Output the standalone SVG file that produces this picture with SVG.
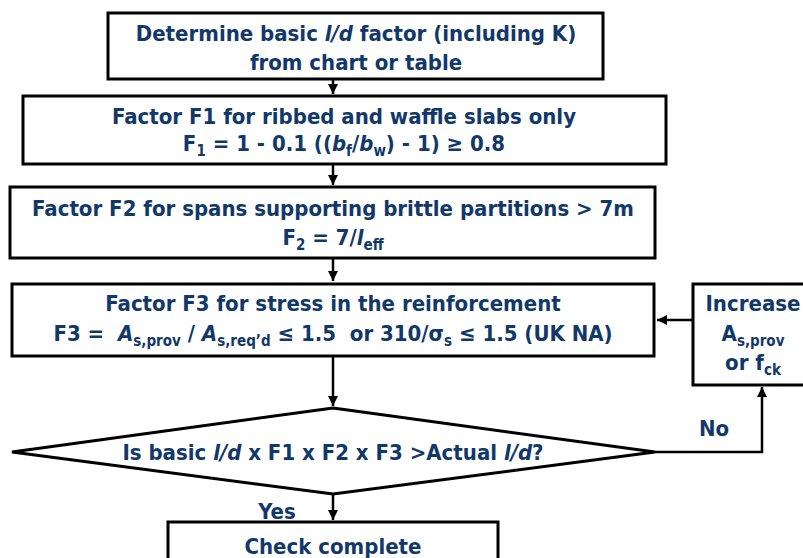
<svg xmlns="http://www.w3.org/2000/svg" width="803" height="558" viewBox="0 0 803 558">
<defs>
<marker id="ah" viewBox="0 0 10 10" refX="10" refY="5" markerWidth="4" markerHeight="4" orient="auto" markerUnits="strokeWidth">
<path d="M0,0 L10,5 L0,10 z" fill="#000"/>
</marker>
<style>
.box{fill:#fff;stroke:#000;stroke-width:3}
.t{font-family:"DejaVu Sans Condensed","DejaVu Sans",sans-serif;font-stretch:condensed;font-weight:bold;font-size:22px;fill:#12386a;text-anchor:middle}
.s{font-size:15px}
.i{font-style:italic}
.c{fill:none;stroke:#000;stroke-width:2.5}
</style>
</defs>
<rect width="803" height="558" fill="#fff"/>
<g id="connectors">
<line class="c" x1="333" y1="80" x2="333" y2="94" marker-end="url(#ah)"/>
<line class="c" x1="333" y1="165" x2="333" y2="185" marker-end="url(#ah)"/>
<line class="c" x1="333" y1="259" x2="333" y2="281" marker-end="url(#ah)"/>
<line class="c" x1="333" y1="356" x2="333" y2="406" marker-end="url(#ah)"/>
<line class="c" x1="692" y1="320" x2="657" y2="320" marker-end="url(#ah)"/>
<polyline class="c" points="655,452 762,452 762,387" marker-end="url(#ah)"/>
<line class="c" x1="333" y1="493" x2="333" y2="520" marker-end="url(#ah)"/>
<text class="t" x="714" y="436">No</text>
<text class="t" x="277" y="519">Yes</text>
</g>
<g id="n1">
<rect class="box" x="108" y="13" width="495" height="66"/>
<text class="t" x="356" y="41">Determine basic <tspan class="i">l/d</tspan> factor (including K)</text>
<text class="t" x="356" y="70">from chart or table</text>
</g>
<g id="n2">
<rect class="box" x="23" y="96" width="643" height="68"/>
<text class="t" x="344" y="124">Factor F1 for ribbed and waffle slabs only</text>
<text class="t" x="344" y="151">F<tspan class="s" dy="5">1</tspan><tspan dy="-5"> = 1 - 0.1 ((</tspan><tspan class="i">b</tspan><tspan class="s" dy="5">f</tspan><tspan dy="-5">/</tspan><tspan class="i">b</tspan><tspan class="s" dy="5">w</tspan><tspan dy="-5">) - 1) ≥ 0.8</tspan></text>
</g>
<g id="n3">
<rect class="box" x="10" y="187" width="645" height="71"/>
<text class="t" x="333" y="216">Factor F2 for spans supporting brittle partitions &gt; 7m</text>
<text class="t" x="333" y="245">F<tspan class="s" dy="5">2</tspan><tspan dy="-5"> = 7/</tspan><tspan class="i">l</tspan><tspan class="s" dy="5">eff</tspan></text>
</g>
<g id="n4">
<rect class="box" x="12" y="284" width="642" height="72"/>
<text class="t" x="333" y="311">Factor F3 for stress in the reinforcement</text>
<text class="t" x="333" y="341" xml:space="preserve">F3 =  <tspan class="i">A</tspan><tspan class="s" dy="5">s,prov</tspan><tspan dy="-5"> / </tspan><tspan class="i">A</tspan><tspan class="s" dy="5">s,req’d</tspan><tspan dy="-5"> ≤ 1.5  or 310/σ</tspan><tspan class="s" dy="5">s</tspan><tspan dy="-5"> ≤ 1.5 (UK NA)</tspan></text>
</g>
<g id="n5">
<rect class="box" x="693" y="284" width="115" height="101"/>
<text class="t" x="753" y="311">Increase</text>
<text class="t" x="753" y="341">A<tspan class="s" dy="5">s,prov</tspan></text>
<text class="t" x="753" y="370">or f<tspan class="s" dy="5">ck</tspan></text>
</g>
<g id="n6">
<polygon class="box" points="333,408 655,452 333,494 12,452"/>
<text class="t" x="333" y="460">Is basic <tspan class="i">l/d</tspan> x F1 x F2 x F3 &gt;Actual <tspan class="i">l/d</tspan>?</text>
</g>
<g id="n7">
<rect class="box" x="168" y="522" width="330" height="45"/>
<text class="t" x="333" y="554">Check complete</text>
</g>
</svg>
